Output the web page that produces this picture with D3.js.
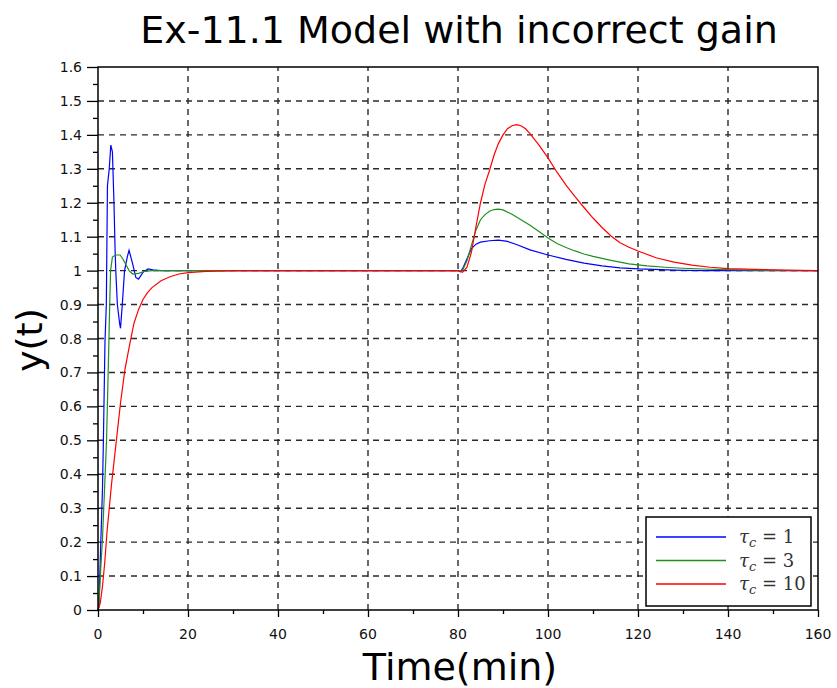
<!DOCTYPE html>
<html lang="en">
<head>
    <meta charset="UTF-8">
    <title>Ex-11.1 Model with incorrect gain</title>
    <script src="https://d3js.org/d3.v7.min.js"></script>
    <style>
        body { margin: 0; background: #fff; font-family: "DejaVu Sans", sans-serif; }
        .grid line { stroke: #2a2a2a; stroke-width: 1.4; stroke-dasharray: 6 5; }
        .tick-label { font-size: 14px; fill: #111; }
        .legend-text { font-family: "DejaVu Serif", "Liberation Serif", serif; font-size: 18px; fill: #333; }
    </style>
</head>
<body>
    <div id="chart"></div>
    <script>
        // data: [time (min), y(t)]
        const tau1 = [[0,0],[0.2,0.01],[0.6,0.19],[1.0,0.36],[1.2,0.5],[1.55,0.79],[1.85,0.9],[2.1,1.25],[2.5,1.3],
            [2.85,1.37],[3.2,1.35],[3.55,1.2],[3.8,1.06],[3.95,1.0],[4.3,0.9],[4.8,0.845],[5.0,0.83],[5.4,0.9],
            [5.9,1.0],[6.5,1.04],[6.9,1.06],[7.7,1.02],[8.4,0.98],[9.0,0.975],[10.0,0.995],[11.1,1.005],[12.2,1.002],
            [14,1.0],[80,1.0],[80.5,0.997],[81,1.005],[82,1.035],[83,1.065],[84,1.078],[85,1.084],[87,1.088],[89,1.09],
            [91,1.086],[93,1.077],[96,1.061],[100,1.046],[104,1.033],[108,1.022],[112,1.014],[116,1.008],[120,1.005],
            [125,1.003],[130,1.001],[135,1.0],[160,1.0]];
        const tau3 = [[0,0],[0.2,0.01],[0.6,0.12],[1.0,0.21],[1.4,0.34],[1.9,0.5],[2.4,0.78],[2.6,0.9],[2.8,1.0],
            [3.2,1.04],[3.9,1.046],[4.9,1.046],[5.5,1.035],[6.1,1.02],[6.9,1.0],[7.7,0.99],[9.0,0.992],[10.4,0.998],
            [12,1.0],[80,1.0],[80.5,0.997],[81,1.0],[82,1.03],[83,1.075],[84,1.12],[85,1.15],[86,1.165],[87,1.175],
            [88,1.18],[89,1.181],[90,1.179],[92,1.166],[94,1.15],[96,1.134],[98,1.115],[100,1.096],[102,1.08],
            [104,1.068],[106,1.058],[108,1.049],[110,1.042],[114,1.03],[118,1.02],[122,1.014],[126,1.01],[130,1.007],
            [136,1.004],[142,1.002],[148,1.001],[160,1.0]];
        const tau10 = [[0,0],[0.5,0.02],[1,0.07],[1.5,0.14],[2,0.23],[2.5,0.3],[3,0.37],[3.5,0.43],[4,0.49],[4.5,0.55],
            [5,0.61],[5.5,0.66],[6,0.71],[7,0.78],[8,0.845],[9,0.885],[10,0.915],[11,0.935],[12,0.95],[14,0.97],
            [16,0.982],[18,0.99],[20,0.994],[24,0.998],[30,1.0],[80,1.0],[80.5,0.998],[81,0.995],[82,1.01],[83,1.055],
            [84,1.13],[85,1.2],[86,1.255],[87,1.295],[88,1.34],[89,1.375],[90,1.4],[91,1.418],[92,1.427],[93,1.43],
            [94,1.427],[95,1.418],[96,1.404],[98,1.37],[100,1.332],[102,1.29],[104,1.252],[106,1.218],[108,1.186],
            [110,1.155],[112,1.127],[114,1.102],[116,1.082],[118,1.069],[120,1.058],[124,1.038],[128,1.025],
            [132,1.016],[136,1.01],[140,1.006],[148,1.003],[155,1.001],[160,1.0]];

        const seriesNames = ["1", "3", "10"];
        const seriesColors = ["#0000ff", "#1f8f1f", "#ff0000"];
        const seriesData = [tau1, tau3, tau10];

        const xTicks = d3.range(0, 161, 20);
        const yTicks = d3.range(0, 17).map(d => d / 10);

        const width = 837, height = 688;
        const svg = d3.select("#chart").append("svg")
            .attr("width", width).attr("height", height);

        const x = d3.scaleLinear().domain([0, 160]).range([98, 818]);
        const y = d3.scaleLinear().domain([0, 1.6]).range([610, 67]);

        // grid
        const grid = svg.append("g").attr("class", "grid");
        grid.selectAll(".gx").data(xTicks.filter(d => d > 0 && d < 160)).enter().append("line")
            .attr("x1", d => x(d)).attr("x2", d => x(d)).attr("y1", y(0)).attr("y2", y(1.6));
        grid.selectAll(".gy").data(yTicks.filter(d => d > 0 && d < 1.6)).enter().append("line")
            .attr("y1", d => y(d)).attr("y2", d => y(d)).attr("x1", x(0)).attr("x2", x(160));

        // curves
        const line = d3.line().x(d => x(d[0])).y(d => y(d[1]));
        svg.append("g").selectAll("path").data(seriesData).enter().append("path")
            .attr("d", line)
            .attr("fill", "none")
            .attr("stroke", (d, i) => seriesColors[i])
            .attr("stroke-width", 1.2);

        // frame
        svg.append("rect")
            .attr("x", x(0)).attr("y", y(1.6))
            .attr("width", x(160) - x(0)).attr("height", y(0) - y(1.6))
            .attr("fill", "none").attr("stroke", "#000").attr("stroke-width", 1.5);

        // axes
        const xAxis = svg.append("g").attr("transform", `translate(0,${y(0)})`)
            .call(d3.axisBottom(x).tickValues(d3.range(0, 161, 10)).tickSize(4).tickFormat(""));
        xAxis.selectAll(".tick line").filter(d => d % 20 === 0).attr("y2", 7);
        xAxis.select(".domain").remove();
        xAxis.selectAll(".tick line").attr("stroke", "#000").attr("stroke-width", 1.3);

        const yAxis = svg.append("g").attr("transform", `translate(${x(0)},0)`)
            .call(d3.axisLeft(y).tickValues(d3.range(0, 33).map(d => d / 20)).tickSize(5).tickFormat(""));
        yAxis.selectAll(".tick line").filter((d, i) => i % 2 === 0).attr("x2", -11);
        yAxis.select(".domain").remove();
        yAxis.selectAll(".tick line").attr("stroke", "#000").attr("stroke-width", 1.3);

        svg.append("g").selectAll("text").data(xTicks).enter().append("text")
            .attr("class", "tick-label")
            .attr("x", d => x(d)).attr("y", 639)
            .attr("text-anchor", "middle")
            .text(d => d);
        svg.append("g").selectAll("text").data(yTicks).enter().append("text")
            .attr("class", "tick-label")
            .attr("x", 82).attr("y", d => y(d) + 5)
            .attr("text-anchor", "end")
            .text(d => d3.format("")(+d.toFixed(1)));

        // titles
        svg.append("text").attr("x", 459).attr("y", 43)
            .attr("text-anchor", "middle").attr("font-size", 38).attr("fill", "#000")
            .text("Ex-11.1 Model with incorrect gain");
        svg.append("text").attr("x", 460).attr("y", 680)
            .attr("text-anchor", "middle").attr("font-size", 38).attr("fill", "#000")
            .text("Time(min)");
        svg.append("text").attr("transform", "translate(42,340) rotate(-90)")
            .attr("text-anchor", "middle").attr("font-size", 36).attr("fill", "#000")
            .text("y(t)");

        // legend
        const legend = svg.append("g");
        legend.append("rect").attr("x", 646).attr("y", 517).attr("width", 165).attr("height", 89)
            .attr("fill", "#fff").attr("stroke", "#000").attr("stroke-width", 1.5);
        const rows = legend.selectAll(".row").data(seriesNames).enter().append("g")
            .attr("transform", (d, i) => `translate(0,${537 + i * 23.5})`);
        rows.append("line").attr("x1", 656).attr("x2", 726).attr("y1", 0).attr("y2", 0)
            .attr("stroke", (d, i) => seriesColors[i]).attr("stroke-width", 1.5);
        const label = rows.append("text").attr("class", "legend-text").attr("x", 739).attr("y", 6);
        label.append("tspan").attr("font-style", "italic").text("τ");
        label.append("tspan").attr("font-style", "italic").attr("font-size", 13).attr("dy", 4).text("c");
        label.append("tspan").attr("dy", -4).text(d => " = " + d);
    </script>
</body>
</html>
